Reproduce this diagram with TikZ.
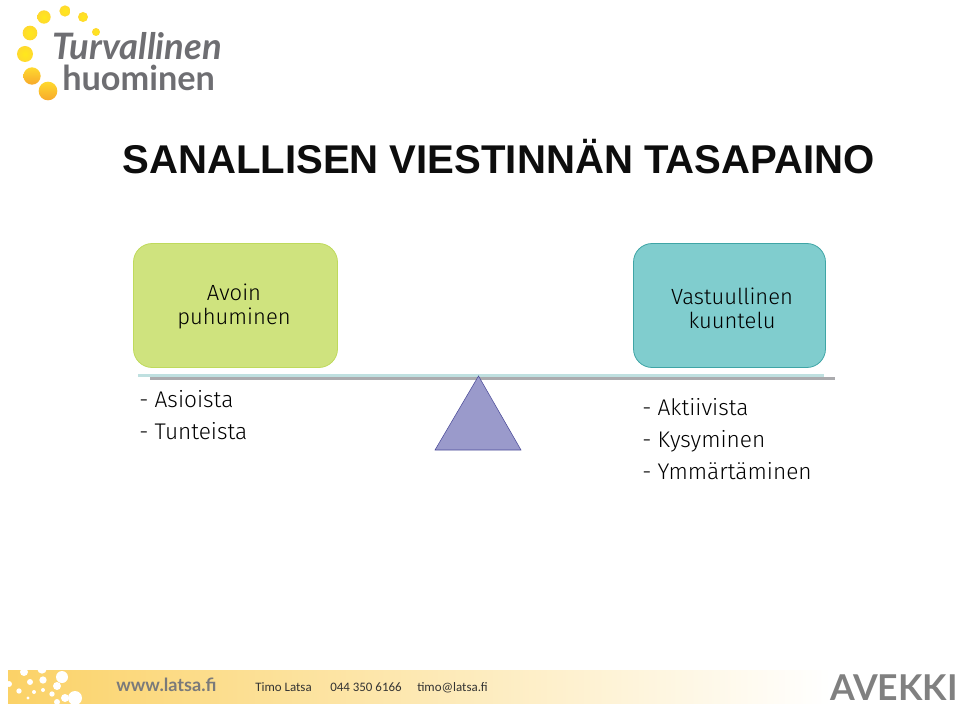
\documentclass[tikz,border=0pt]{standalone}
\usepackage{fontspec}
\setmainfont{Liberation Sans}
\newfontfamily\bodyfont{Fira Sans Light}
\newfontfamily\logofont{Lato}
\newfontfamily\footfont{Carlito}
\usetikzlibrary{positioning}
\definecolor{sunA}{HTML}{FFD92E}
\definecolor{sunB}{HTML}{F7A92B}
\definecolor{barC}{HTML}{FBD267}
\definecolor{logoC}{HTML}{6E6E72}
\definecolor{avekC}{HTML}{808080}
\definecolor{boxgreen}{HTML}{CFE37E}
\definecolor{linegreen}{HTML}{BFDA5C}
\definecolor{boxteal}{HTML}{80CDCE}
\definecolor{lineteal}{HTML}{3FA5A6}
\definecolor{beamgray}{HTML}{ABABAE}
\definecolor{beamteal}{HTML}{BFE0E0}
\definecolor{pivotfill}{HTML}{9A9ACB}
\definecolor{pivotline}{HTML}{4A4A98}
\begin{document}
\begin{tikzpicture}[
    x=0.75pt, y=-0.75pt,
    box/.style={rectangle, rounded corners=14pt, line width=0.6pt, inner sep=0pt, minimum height=93pt},
    bodytext/.style={font=\bodyfont\fontsize{16.5}{18}\selectfont, text=black, align=center, inner sep=0pt},
    listtext/.style={font=\bodyfont\fontsize{17}{24}\selectfont, text=black, align=left, anchor=north west, inner sep=0pt},
    dot/.style={circle, inner sep=0pt, shading=radial, inner color=sunA!60!yellow, outer color=sunA},
    dotlow/.style={circle, inner sep=0pt, shading=axis, top color=sunA, bottom color=sunB},
    hole/.style={circle, fill=white, inner sep=0pt},
    beamline/.style={rectangle, minimum height=2pt, inner sep=0pt},
    footer/.style={font=\footfont\fontsize{9.7}{11}\selectfont, text=black!80, anchor=base west, inner sep=0pt}
]
\useasboundingbox (0,0) rectangle (959,709);

% Logo
\node[dot, minimum size=8.5pt] (sunone) at (65,11) {};
\node[dot, minimum size=7.5pt] (suntwo) at (83,17) {};
\node[dot, minimum size=6pt] (sunthree) at (96,32) {};
\node[dot, minimum size=10pt] (sunfour) at (44,17) {};
\node[dot, minimum size=11pt] (sunfive) at (30,33) {};
\node[dot, minimum size=12pt] (sunsix) at (25,54) {};
\node[dotlow, minimum size=13pt] (sunseven) at (32,76) {};
\node[dotlow, minimum size=14pt] (suneight) at (48,91) {};
\node[font=\logofont\bfseries\itshape\fontsize{27.3}{26}\selectfont, text=logoC, anchor=base west, inner sep=0pt] (logotop) at (52,60) {Turvallinen};
\node[font=\logofont\bfseries\fontsize{25.7}{26}\selectfont, text=logoC, anchor=base west, inner sep=0pt] (logobottom) at (62,91) {huominen};

% Title
\node[font=\bfseries\fontsize{30.1}{32}\selectfont, text=black!95, inner sep=0pt] (title) at (498.5,157) {SANALLISEN VIESTINNÄN TASAPAINO};

% Boxes
\node[box, draw=linegreen, fill=boxgreen, minimum width=153pt] (avoin) at (235.5,305.5) {};
\node[box, draw=lineteal, fill=boxteal, minimum width=144pt] (vastuu) at (729.5,305.5) {};
\node[bodytext] (avointext) at (234,306) {Avoin\\puhuminen};
\node[bodytext] (vastuutext) at (732,308) {Vastuullinen\\kuuntelu};

% Balance beam
\node[beamline, fill=beamteal, minimum width=514.5pt] (beamtop) at (481,375.5) {};
\node[beamline, fill=beamgray, minimum width=514pt] (beam) at (492.5,378.5) {};
\coordinate (pivotapex) at (478.5,376);
\coordinate (pivotleft) at (435,450);
\coordinate (pivotright) at (521,450);
\draw[draw=pivotline, fill=pivotfill] (pivotapex) -- (pivotright) -- (pivotleft) -- cycle;

% Lists
\node[listtext] (leftlist) at (139,390) {- Asioista\\- Tunteista};
\node[listtext] (rightlist) at (642,398.5) {- Aktiivista\\- Kysyminen\\- Ymmärtäminen};

% Footer
\fill[left color=barC, middle color=barC, right color=white] (8,670) rectangle (830,703);
\node[hole, minimum size=6pt] (holeone) at (24,672) {};
\node[hole, minimum size=7pt] (holetwo) at (42,669) {};
\node[hole, minimum size=9pt] (holethree) at (62,677) {};
\node[hole, minimum size=4.5pt] (holefour) at (9,684) {};
\node[hole, minimum size=4.5pt] (holefive) at (30,682) {};
\node[hole, minimum size=5.5pt] (holesix) at (43,680) {};
\node[hole, minimum size=6pt] (holeseven) at (57,686) {};
\node[hole, minimum size=4pt] (holeeight) at (19,691) {};
\node[hole, minimum size=3pt] (holenine) at (34,692) {};
\node[hole, minimum size=3pt] (holeten) at (43,690) {};
\node[hole, minimum size=4pt] (holeeleven) at (52,694) {};
\node[hole, minimum size=2.5pt] (holetwelve) at (28,698) {};
\node[hole, minimum size=10.5pt] (holethirteen) at (75,698) {};
\node[hole, minimum size=6pt] (holefourteen) at (65,698) {};
\node[hole, minimum size=4.5pt] (holefifteen) at (57,702) {};
\node[font=\logofont\bfseries\fontsize{13.6}{14}\selectfont, text=black!52, anchor=base west, inner sep=0pt] (web) at (116,691) {www.latsa.fi};
\node[footer] (person) at (255,691) {Timo Latsa};
\node[footer] (phone) at (330,691) {044 350 6166};
\node[footer] (mail) at (417,691) {timo@latsa.fi};
\node[font=\logofont\bfseries\fontsize{26.7}{27}\selectfont, text=avekC, inner sep=0pt] (avekki) at (894,688) {AVEKKI};

\end{tikzpicture}
\end{document}
